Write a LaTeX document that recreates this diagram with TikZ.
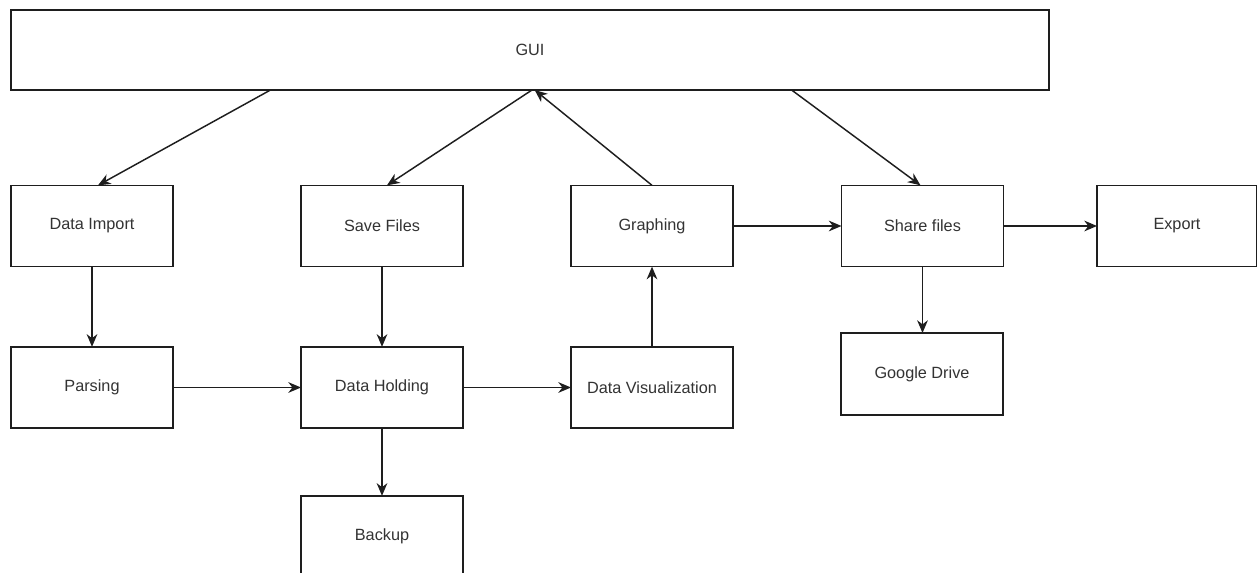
\documentclass[tikz,border=0pt]{standalone}
\usepackage{fontspec}
\setmainfont{Liberation Sans}
\usetikzlibrary{arrows.meta,calc}
\definecolor{linec}{HTML}{1E1E1E}
\definecolor{textc}{HTML}{333333}
\begin{document}
\begin{tikzpicture}[x=0.75pt,y=-0.75pt,
  box/.style={draw=linec,line width=1.1pt,fill=white,minimum width=121.5pt,minimum height=61pt,
    inner sep=0pt,outer sep=0pt,text=textc,font=\fontsize{12.2pt}{14pt}\selectfont},
  arr/.style={draw=linec,line width=1.1pt,-{Stealth[length=9.5pt,width=8pt,inset=3pt]}}]
\useasboundingbox (0,0) rectangle (1257,573);
\begin{scope}
\clip (0,0) rectangle (1257,573);
\node[box,minimum width=778.5pt,minimum height=60pt] (gui) at (530,50) {GUI};
\node[box] (di) at (92,226) {Data Import};
\node[box] (parse) at (92,387.5) {Parsing};
\node[box] (save) at (382,226) {Save Files};
\node[box] (hold) at (382,387.5) {Data Holding};
\node[box] (backup) at (382,536.5) {Backup};
\node[box] (graph) at (652,226) {Graphing};
\node[box] (vis) at (652,387.5) {Data Visualization};
\node[box] (share) at (922.5,226) {Share files};
\node[box,minimum height=61.5pt] (gdrive) at (922,374) {Google Drive};
\node[box,minimum width=120pt] (export) at (1177,226) {Export};

\draw[arr] ($(gui.south west)!0.25!(gui.south east)$) -- ([xshift=4.5pt]di.north);
\draw[arr] ([xshift=1.5pt]gui.south) -- ([xshift=3.75pt]save.north);
\draw[arr] (graph.north) -- ([xshift=3.5pt]gui.south);
\draw[arr] ($(gui.south west)!0.752!(gui.south east)$) -- ([xshift=-1.5pt]share.north);

\draw[arr] (di.south) -- (parse.north);
\draw[arr] (parse.east) -- (hold.west);
\draw[arr] (save.south) -- (hold.north);
\draw[arr] (hold.south) -- (backup.north);
\draw[arr] (hold.east) -- (vis.west);
\draw[arr] (vis.north) -- (graph.south);
\draw[arr] (graph.east) -- (share.west);
\draw[arr] (share.east) -- (export.west);
\draw[arr] (share.south) -- (share.south |- gdrive.north);
\end{scope}
\end{tikzpicture}
\end{document}
